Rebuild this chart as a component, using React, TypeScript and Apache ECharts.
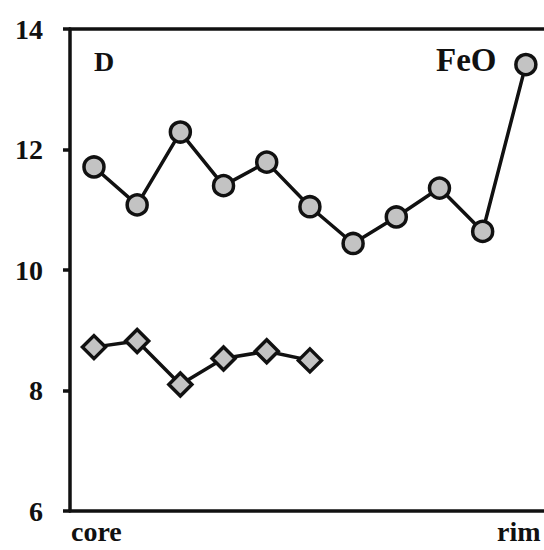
import React, { useEffect, useRef } from "react";
import * as echarts from "echarts";

const positions = [0, 1, 2, 3, 4, 5, 6, 7, 8, 9, 10];
const circleValues = [11.71, 11.08, 12.29, 11.4, 11.79, 11.05, 10.44, 10.88, 11.36, 10.64, 13.41];
const diamondValues = [8.72, 8.82, 8.1, 8.53, 8.65, 8.5];
const yTicks = [6, 8, 10, 12, 14];
const xLabels = ["core", "rim"];
const panelLabel = "D";
const elementLabel = "FeO";

const FONT = "'Liberation Serif', 'Times New Roman', serif";

export default function App() {
  const ref = useRef<HTMLDivElement>(null);
  useEffect(() => {
    if (!ref.current) return;
    const chart = echarts.init(ref.current, undefined, { renderer: "svg" });
    const axisLineStyle = { color: "#111", width: 3.5 };
    chart.setOption({
      animation: false,
      backgroundColor: "#ffffff",
      grid: { left: 70, right: 0, top: 29, bottom: 39 },
      xAxis: [
        {
          type: "value",
          min: -0.555,
          max: 10.42,
          axisLine: { show: true, onZero: false, lineStyle: axisLineStyle },
          axisTick: { show: false },
          axisLabel: { show: false },
          splitLine: { show: false },
        },
        {
          type: "value",
          position: "top",
          min: -0.555,
          max: 10.42,
          axisLine: { show: true, onZero: false, lineStyle: axisLineStyle },
          axisTick: { show: false },
          axisLabel: { show: false },
          splitLine: { show: false },
        },
      ],
      yAxis: {
        type: "value",
        min: yTicks[0],
        max: yTicks[yTicks.length - 1],
        interval: 2,
        axisLine: { show: true, onZero: false, lineStyle: axisLineStyle },
        axisTick: { show: true, inside: false, length: 7, lineStyle: axisLineStyle },
        axisLabel: {
          margin: 27,
          color: "#111",
          fontFamily: FONT,
          fontWeight: "bold",
          fontSize: 28,
        },
        splitLine: { show: false },
      },
      series: [
        {
          type: "line",
          data: positions.map((x, i) => [x, circleValues[i]]),
          symbol: "circle",
          symbolSize: 20,
          lineStyle: { color: "#111", width: 3.5 },
          itemStyle: { color: "#c3c3c3", borderColor: "#111", borderWidth: 3.5 },
          z: 3,
        },
        {
          type: "line",
          data: diamondValues.map((v, i) => [positions[i], v]),
          symbol: "diamond",
          symbolSize: 23,
          lineStyle: { color: "#111", width: 3.5 },
          itemStyle: { color: "#c3c3c3", borderColor: "#111", borderWidth: 3.5 },
          z: 3,
        },
      ],
      graphic: [
        {
          type: "text",
          left: 71,
          top: 517,
          style: { text: xLabels[0], font: `bold 28px ${FONT}`, fill: "#111" },
        },
        {
          type: "text",
          left: 497,
          top: 517,
          style: { text: xLabels[1], font: `bold 28px ${FONT}`, fill: "#111" },
        },
        {
          type: "text",
          left: 94,
          top: 47,
          style: { text: panelLabel, font: `bold 28px ${FONT}`, fill: "#111" },
        },
        {
          type: "text",
          left: 436,
          top: 43,
          style: { text: elementLabel, font: `bold 33px ${FONT}`, fill: "#111" },
        },
      ],
    });
    return () => chart.dispose();
  }, []);
  return (
    <div
      ref={ref}
      style={{ position: "absolute", left: 0, top: 0, width: 544, height: 550 }}
    />
  );
}
